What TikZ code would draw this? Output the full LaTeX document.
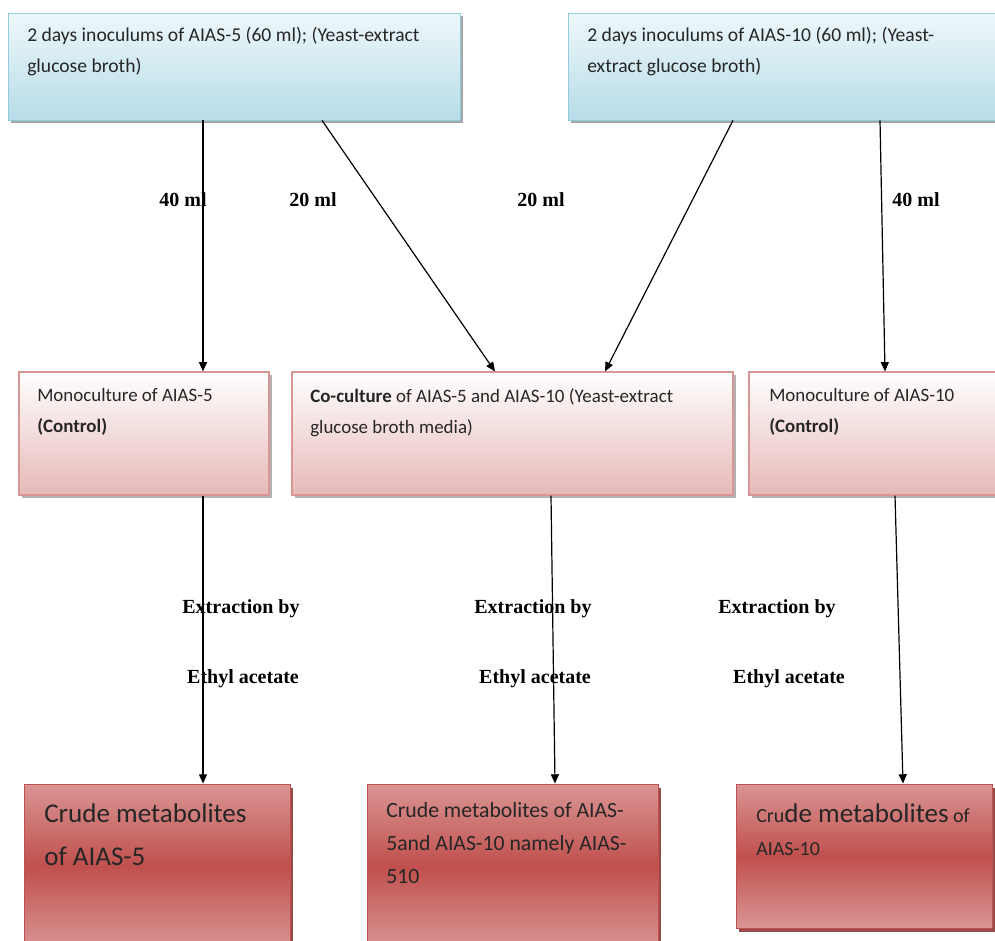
\documentclass[tikz,border=0pt]{standalone}
\usepackage{fontspec}
\setmainfont{Carlito}
\newfontfamily\lblfont{Liberation Serif}
\usetikzlibrary{arrows.meta,shadows}
\definecolor{blueB}{HTML}{B7DDE8}
\definecolor{blueT}{HTML}{EEF7FA}
\definecolor{blueD}{HTML}{93CDDD}
\definecolor{pinkB}{HTML}{E6B9B8}
\definecolor{pinkD}{HTML}{D99694}
\definecolor{redL}{HTML}{D99594}
\definecolor{redM}{HTML}{C0504D}
\definecolor{redD}{HTML}{8C3836}
\tikzset{
  topbox/.style={draw=blueD, line width=0.6pt, top color=blueT, bottom color=blueB, rectangle, inner sep=0pt,
    drop shadow={shadow xshift=2pt, shadow yshift=-2pt, fill=black, opacity=0.35}},
  midbox/.style={draw=pinkD, line width=0.8pt, top color=white, bottom color=pinkB, rectangle, inner sep=0pt,
    drop shadow={shadow xshift=2pt, shadow yshift=-2pt, fill=black, opacity=0.3}},
  botbox/.style={draw=redM, line width=0.6pt, top color=redL, bottom color=redL, middle color=redM, rectangle, inner sep=0pt,
    drop shadow={shadow xshift=2pt, shadow yshift=-3pt, fill=redD, opacity=0.9}},
  boxtext/.style={anchor=north west, align=left, inner sep=0pt, font=\fontsize{14.7}{23.5}\selectfont, text=black!85},
  midtext/.style={anchor=north west, align=left, inner sep=0pt, font=\fontsize{14.2}{23.5}\selectfont, text=black!85},
  bigtext/.style={anchor=north west, align=left, inner sep=0pt, font=\fontsize{20.3}{32.5}\selectfont, text=black!85},
  lbl/.style={font=\lblfont\bfseries\fontsize{15}{17}\selectfont, inner sep=0pt},
  arr/.style={line width=0.9pt, -{Triangle[length=7pt,width=6pt]}}
}
\begin{document}
\begin{tikzpicture}[x=0.75pt,y=-0.75pt]
\useasboundingbox (0,0) rectangle (995,940);
% top boxes
\node[topbox, minimum width=452*0.75pt, minimum height=107*0.75pt] (tl) at (234,66.5) {};
\node[topbox, minimum width=440*0.75pt, minimum height=107*0.75pt] (tr) at (788,66.5) {};
% middle boxes
\node[midbox, minimum width=250*0.75pt, minimum height=123*0.75pt] (ml) at (144,433.5) {};
\node[midbox, minimum width=441*0.75pt, minimum height=123*0.75pt] (mc) at (512.5,433.5) {};
\node[midbox, minimum width=254*0.75pt, minimum height=123*0.75pt] (mr) at (876,433.5) {};
% bottom boxes
\node[botbox, minimum width=266*0.75pt, minimum height=165*0.75pt] (bl) at (157,866.5) {};
\node[botbox, minimum width=291*0.75pt, minimum height=165*0.75pt] (bc) at (512.5,866.5) {};
\node[botbox, minimum width=256*0.75pt, minimum height=144*0.75pt] (br) at (864,856) {};
% texts
\node[boxtext] (tlt) at (27,27) {2 days inoculums of AIAS-5 (60 ml); (Yeast-extract\\glucose broth)};
\node[boxtext] (trt) at (587,27) {2 days inoculums of AIAS-10 (60 ml); (Yeast-\\extract glucose broth)};
\node[midtext] (mlt) at (37,388) {Monoculture of AIAS-5\\\textbf{(Control)}};
\node[midtext] (mct) at (310,388) {\textbf{Co-culture} of AIAS-5 and AIAS-10 (Yeast-extract\\glucose broth media)};
\node[midtext] (mrt) at (769,388) {Monoculture of AIAS-10\\\textbf{(Control)}};
\node[bigtext] (blt) at (44,803) {Crude metabolites\\of AIAS-5};
\node[boxtext, font=\fontsize{16.3}{24.75}\selectfont] (bct) at (386,802) {Crude metabolites of AIAS-\\5and AIAS-10 namely AIAS-\\510};
\node[boxtext, font=\fontsize{15}{24.75}\selectfont] (brt) at (756,803) {Cru{\fontsize{20.3}{20}\selectfont de metabolites} of\\AIAS-10};
% arrows
\draw[arr] (tl.south -| 203,0) -- (ml.north -| 203,0);
\draw[arr] (tl.south -| 322,0) -- (mc.north -| 495,0);
\draw[arr] (tr.south -| 733,0) -- (mc.north -| 605,0);
\draw[arr] (tr.south -| 880,0) -- (mr.north -| 885,0);
\draw[arr] (ml.south -| 203,0) -- (bl.north -| 203,0);
\draw[arr] (mc.south -| 551,0) -- (bc.north -| 555,0);
\draw[arr] (mr.south -| 895,0) -- (br.north -| 903,0);
% labels
\node[lbl] (l1) at (183,200) {40 ml};
\node[lbl] (l2) at (313,200) {20 ml};
\node[lbl] (l3) at (541,200) {20 ml};
\node[lbl] (l4) at (916,200) {40 ml};
\node[lbl] (e1) at (241,609) {Extraction by};
\node[lbl] (a1) at (243,679) {Ethyl acetate};
\node[lbl] (e2) at (533,609) {Extraction by};
\node[lbl] (a2) at (535,679) {Ethyl acetate};
\node[lbl] (e3) at (777,609) {Extraction by};
\node[lbl] (a3) at (789,679) {Ethyl acetate};
\end{tikzpicture}
\end{document}
